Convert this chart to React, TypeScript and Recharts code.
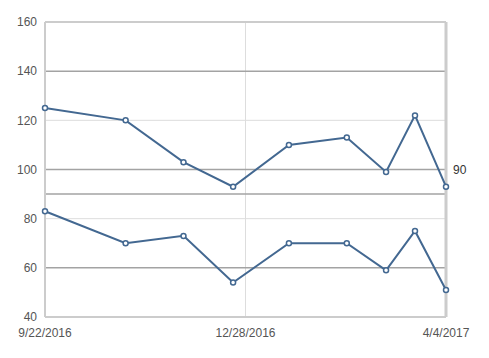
import { LineChart, Line, XAxis, YAxis, ReferenceLine } from 'recharts'

const dates = ['9/22/2016', '10/31/2016', '11/28/2016', '12/22/2016', '1/18/2017', '2/15/2017', '3/6/2017', '3/20/2017', '4/4/2017']
const upper = [125, 120, 103, 93, 110, 113, 99, 122, 93]
const lower = [83, 70, 73, 54, 70, 70, 59, 75, 51]
const xTickLabels = ['9/22/2016', '12/28/2016', '4/4/2017']
const yTicks = [40, 60, 80, 100, 120, 140, 160]
const darkGrid = [140, 100, 60]
const lightGrid = [120, 80]
const target = 90

const toTime = (s: string) => {
  const [m, d, y] = s.split('/').map(Number)
  return Date.UTC(y, m - 1, d)
}

const data = dates.map((d, i) => ({ t: toTime(d), upper: upper[i], lower: lower[i] }))
const xTicks = xTickLabels.map(toTime)
const labelFor = (t: number) => xTickLabels[xTicks.indexOf(t)] ?? ''

const BLUE = '#436891'
const font = { fill: '#555', fontSize: 12, fontFamily: 'Liberation Sans, Arial, sans-serif' }

export default function App() {
  const start = xTicks[0]
  const end = xTicks[xTicks.length - 1]
  return (
    <LineChart
      width={481}
      height={350}
      data={data}
      margin={{ top: 14, right: 43, left: 0, bottom: 11 }}
    >
      <XAxis
        dataKey="t"
        type="number"
        scale="linear"
        domain={[start, end]}
        ticks={xTicks}
        tickFormatter={labelFor}
        tick={font}
        tickLine={false}
        tickMargin={5}
        axisLine={{ stroke: '#ccc', strokeWidth: 2 }}
        height={30}
        interval={0}
      />
      <YAxis
        type="number"
        domain={[40, 160]}
        ticks={yTicks}
        tick={font}
        tickLine={false}
        axisLine={{ stroke: '#ccc', strokeWidth: 2 }}
        width={37}
        interval={0}
      />
      {lightGrid.map(v => (
        <ReferenceLine key={'l' + v} y={v} stroke="#ddd" strokeWidth={1} />
      ))}
      <ReferenceLine x={xTicks[1]} stroke="#ddd" strokeWidth={1} />
      {darkGrid.map(v => (
        <ReferenceLine key={'d' + v} y={v} stroke="#a3a3a3" strokeWidth={1.5} />
      ))}
      <ReferenceLine
        y={target}
        stroke="#a3a3a3"
        strokeWidth={1.5}
        label={{ value: String(target), position: 'right', dy: -24, offset: 7, ...font, fill: '#333' }}
      />
      <ReferenceLine y={160} stroke="#ccc" strokeWidth={2} />
      <ReferenceLine x={end} stroke="#ccc" strokeWidth={3} />
      <Line
        dataKey="upper"
        stroke={BLUE}
        strokeWidth={2}
        dot={{ r: 2.5, fill: '#fff', stroke: BLUE, strokeWidth: 1.5 }}
        isAnimationActive={false}
      />
      <Line
        dataKey="lower"
        stroke={BLUE}
        strokeWidth={2}
        dot={{ r: 2.5, fill: '#fff', stroke: BLUE, strokeWidth: 1.5 }}
        isAnimationActive={false}
      />
    </LineChart>
  )
}
